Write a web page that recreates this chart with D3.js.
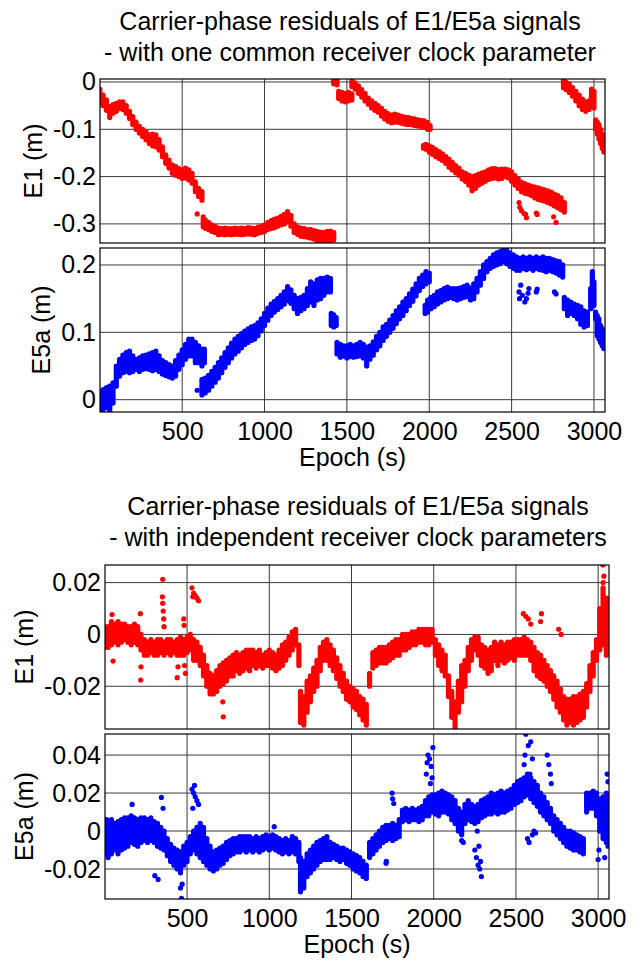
<!DOCTYPE html>
<html><head><meta charset="utf-8">
<script src="https://cdn.jsdelivr.net/npm/d3@7"></script>
<style>
body{margin:0;background:#fff}
text{font-family:"Liberation Sans",Arial,Helvetica,sans-serif;fill:#000}
</style>
</head><body>
<svg id="c" width="638" height="960"></svg>
<script>
// ---------------- data ----------------
const xTickValues = [500, 1000, 1500, 2000, 2500, 3000];
const xTickLabels = ["500", "1000", "1500", "2000", "2500", "3000"];
const titleTop = ["Carrier-phase residuals of E1/E5a signals", "- with one common receiver clock parameter"];
const titleBottom = ["Carrier-phase residuals of E1/E5a signals", "- with independent receiver clock parameters"];
const xLabel = "Epoch (s)";

const e1TopTicks = [0, -0.1, -0.2, -0.3];
const e5aTopTicks = [0, 0.1, 0.2];
const e1BotTicks = [0.02, 0, -0.02];
const e5aBotTicks = [0.04, 0.02, 0, -0.02];

// [epoch, low, high] of the dense scatter band
const e1Top = [
[0,-0.045,-0.015],[20,-0.05,-0.028],[40,-0.06,-0.038],[60,-0.075,-0.052],[80,-0.066,-0.048],[100,-0.062,-0.045],
[120,-0.056,-0.042],[140,-0.058,-0.042],[160,-0.066,-0.05],[180,-0.077,-0.062],[200,-0.09,-0.073],[220,-0.1,-0.085],
[240,-0.108,-0.094],[260,-0.115,-0.1],[280,-0.122,-0.105],[300,-0.13,-0.112],[320,-0.135,-0.11],[340,-0.137,-0.112],
[360,-0.144,-0.122],[380,-0.158,-0.137],[400,-0.172,-0.154],[420,-0.182,-0.165],[440,-0.193,-0.175],[460,-0.197,-0.179],
[480,-0.2,-0.183],[500,-0.204,-0.186],[520,-0.203,-0.182],[540,-0.207,-0.186],[560,-0.214,-0.193],[580,-0.232,-0.211],
[600,-0.242,-0.225],[620,-0.25,-0.232],
[628,-0.306,-0.285],[640,-0.309,-0.292],[660,-0.312,-0.297],[680,-0.316,-0.302],[700,-0.318,-0.305],[720,-0.323,-0.309],
[740,-0.322,-0.31],[760,-0.323,-0.309],[780,-0.322,-0.31],[800,-0.323,-0.31],[820,-0.322,-0.309],[840,-0.322,-0.31],
[860,-0.323,-0.309],[880,-0.322,-0.31],[900,-0.321,-0.308],[920,-0.322,-0.309],[940,-0.323,-0.31],[960,-0.32,-0.307],
[980,-0.318,-0.305],[1000,-0.316,-0.302],[1020,-0.312,-0.297],[1040,-0.31,-0.293],[1060,-0.308,-0.29],[1080,-0.305,-0.288],
[1100,-0.302,-0.284],[1120,-0.3,-0.28],[1140,-0.295,-0.274],[1160,-0.305,-0.282],[1180,-0.318,-0.3],[1200,-0.322,-0.306],
[1220,-0.326,-0.309],[1240,-0.327,-0.31],[1260,-0.328,-0.312],[1280,-0.33,-0.312],[1300,-0.332,-0.314],[1320,-0.338,-0.316],
[1340,-0.34,-0.318],[1360,-0.341,-0.318],[1380,-0.338,-0.316],[1400,-0.336,-0.315],[1420,-0.334,-0.318],
[1420,-0.004,0.006],[1440,-0.006,0.006],
[1450,-0.035,-0.02],[1470,-0.04,-0.022],[1490,-0.042,-0.024],[1510,-0.04,-0.022],[1530,-0.038,-0.025],
[1530,-0.01,0.002],[1550,-0.015,-0.002],[1570,-0.024,-0.008],[1590,-0.032,-0.016],[1610,-0.04,-0.024],[1630,-0.047,-0.034],
[1650,-0.055,-0.04],[1670,-0.06,-0.045],[1690,-0.064,-0.05],[1710,-0.072,-0.056],[1730,-0.078,-0.062],[1750,-0.083,-0.067],
[1770,-0.086,-0.07],[1790,-0.085,-0.068],[1810,-0.085,-0.07],[1830,-0.087,-0.072],[1850,-0.089,-0.074],[1870,-0.09,-0.075],
[1890,-0.09,-0.077],[1910,-0.092,-0.078],[1930,-0.093,-0.08],[1950,-0.094,-0.081],[1970,-0.095,-0.082],[1990,-0.1,-0.086],
[2005,-0.1,-0.092],
[1965,-0.14,-0.134],[1980,-0.142,-0.132],[2000,-0.148,-0.135],[2020,-0.153,-0.138],[2040,-0.158,-0.143],[2060,-0.162,-0.147],
[2080,-0.166,-0.152],[2100,-0.172,-0.158],[2120,-0.18,-0.163],[2140,-0.186,-0.17],[2160,-0.192,-0.177],[2180,-0.197,-0.182],
[2200,-0.205,-0.19],[2220,-0.21,-0.193],[2240,-0.218,-0.197],[2260,-0.23,-0.2],[2280,-0.225,-0.198],[2300,-0.218,-0.195],
[2320,-0.214,-0.192],[2340,-0.21,-0.19],[2360,-0.206,-0.186],[2380,-0.204,-0.183],[2400,-0.203,-0.183],[2420,-0.205,-0.185],
[2440,-0.204,-0.184],[2460,-0.2,-0.184],[2480,-0.203,-0.186],[2500,-0.21,-0.19],[2520,-0.218,-0.198],[2540,-0.225,-0.205],
[2560,-0.232,-0.212],[2580,-0.235,-0.215],[2600,-0.237,-0.218],[2620,-0.24,-0.22],[2640,-0.245,-0.222],[2660,-0.248,-0.224],
[2680,-0.25,-0.226],[2700,-0.252,-0.228],[2720,-0.255,-0.23],[2740,-0.258,-0.233],[2760,-0.262,-0.237],[2780,-0.266,-0.24],
[2800,-0.27,-0.245],[2820,-0.275,-0.255],
[2815,-0.012,0.003],[2830,-0.016,0.0],[2850,-0.022,-0.004],[2870,-0.03,-0.012],[2890,-0.04,-0.02],[2910,-0.05,-0.028],
[2930,-0.058,-0.036],[2950,-0.062,-0.042],[2970,-0.058,-0.04],[2985,-0.05,-0.015],[3000,-0.055,-0.02],[3010,-0.1,-0.08],
[3020,-0.11,-0.085],[3030,-0.12,-0.09],[3040,-0.13,-0.1],[3050,-0.14,-0.11],[3060,-0.148,-0.12]
];
const e1TopOut = [[591,-0.279],[2545,-0.255],[2550,-0.265],[2560,-0.272],[2575,-0.278],[2585,-0.28],[2590,-0.287],
[2650,-0.277],[2655,-0.28],[2755,-0.285],[2770,-0.297]];

const e5aTop = [
[0,-0.02,0.012],[20,-0.015,0.015],[40,-0.012,0.018],[60,-0.018,0.02],[80,-0.005,0.025],[100,0.02,0.05],[120,0.035,0.06],
[140,0.04,0.066],[160,0.042,0.07],[180,0.04,0.072],[200,0.042,0.065],[220,0.045,0.06],[240,0.042,0.062],[260,0.045,0.065],
[280,0.046,0.066],[300,0.045,0.068],[320,0.043,0.07],[340,0.045,0.072],[360,0.042,0.065],[380,0.038,0.058],[400,0.036,0.055],
[420,0.034,0.052],[440,0.032,0.05],[460,0.035,0.058],[480,0.045,0.066],[500,0.052,0.074],[520,0.06,0.082],[540,0.065,0.09],
[560,0.065,0.09],[580,0.055,0.085],[600,0.055,0.08],[620,0.05,0.075],[635,0.055,0.075],
[620,0.007,0.03],[640,0.01,0.032],[660,0.014,0.036],[680,0.02,0.042],[700,0.026,0.048],[720,0.032,0.055],[740,0.04,0.062],
[760,0.048,0.07],[780,0.055,0.077],[800,0.062,0.084],[820,0.068,0.09],[840,0.072,0.094],[860,0.077,0.098],[880,0.082,0.102],
[900,0.085,0.105],[920,0.088,0.108],[940,0.09,0.11],[960,0.095,0.114],[980,0.102,0.12],[1000,0.11,0.128],[1020,0.118,0.136],
[1040,0.125,0.142],[1060,0.13,0.146],[1080,0.134,0.15],[1100,0.138,0.155],[1120,0.142,0.16],[1140,0.147,0.168],
[1160,0.143,0.163],[1180,0.135,0.155],[1200,0.128,0.15],[1220,0.132,0.152],[1240,0.135,0.155],[1260,0.14,0.165],
[1280,0.145,0.175],[1300,0.14,0.172],[1320,0.148,0.178],[1340,0.15,0.18],[1360,0.155,0.18],[1380,0.16,0.182],[1400,0.16,0.18],
[1405,0.11,0.128],[1420,0.108,0.126],[1435,0.11,0.122],
[1440,0.068,0.085],[1460,0.063,0.082],[1480,0.065,0.08],[1500,0.062,0.08],[1520,0.064,0.082],[1540,0.063,0.08],
[1560,0.064,0.082],[1580,0.065,0.085],[1600,0.062,0.082],[1620,0.05,0.078],[1640,0.06,0.08],[1660,0.066,0.086],
[1680,0.074,0.094],[1700,0.08,0.1],[1720,0.088,0.108],[1740,0.094,0.112],[1760,0.1,0.118],[1780,0.106,0.125],
[1800,0.113,0.132],[1820,0.12,0.138],[1840,0.125,0.145],[1860,0.132,0.15],[1880,0.14,0.157],[1900,0.146,0.164],
[1920,0.154,0.172],[1940,0.162,0.18],[1960,0.168,0.185],[1980,0.172,0.19],[2000,0.175,0.188],
[1975,0.128,0.14],[1990,0.13,0.148],[2010,0.135,0.152],[2030,0.138,0.155],[2050,0.142,0.16],[2070,0.145,0.162],
[2090,0.148,0.165],[2110,0.15,0.167],[2130,0.152,0.165],[2150,0.15,0.165],[2170,0.148,0.165],[2190,0.15,0.166],
[2210,0.152,0.168],[2230,0.153,0.17],[2250,0.148,0.166],[2270,0.15,0.172],[2290,0.16,0.18],[2310,0.17,0.19],
[2330,0.18,0.2],[2350,0.19,0.205],[2370,0.195,0.21],[2390,0.198,0.215],[2410,0.2,0.218],[2430,0.202,0.22],
[2450,0.205,0.225],[2470,0.202,0.222],[2490,0.198,0.218],[2510,0.195,0.215],[2530,0.192,0.212],[2550,0.192,0.21],
[2570,0.195,0.212],[2590,0.193,0.21],[2610,0.195,0.212],[2630,0.192,0.21],[2650,0.195,0.212],[2670,0.193,0.21],
[2690,0.192,0.212],[2710,0.19,0.21],[2730,0.192,0.21],[2750,0.19,0.208],[2770,0.188,0.206],[2790,0.185,0.205],[2810,0.182,0.2],
[2820,0.135,0.152],[2840,0.125,0.148],[2860,0.128,0.145],[2880,0.125,0.142],[2900,0.12,0.14],[2920,0.112,0.138],
[2940,0.108,0.132],[2960,0.11,0.13],[2980,0.135,0.165],[2990,0.148,0.19],[3000,0.14,0.175],[3010,0.12,0.13],
[3020,0.095,0.125],[3030,0.09,0.12],[3040,0.085,0.11],[3050,0.08,0.105],[3060,0.076,0.1]
];
const e5aTopOut = [[591,0.014],[2545,0.16],[2548,0.15],[2555,0.17],[2565,0.155],[2580,0.145],[2590,0.15],[2600,0.158],
[2605,0.165],[2650,0.16],[2655,0.164],[2760,0.16],[2770,0.157]];

const e1Bot = [
[0,-0.005,0.003],[20,-0.005,0.003],[40,-0.004,0.005],[60,-0.003,0.004],[80,-0.004,0.005],[100,-0.003,0.004],
[120,-0.002,0.004],[140,-0.003,0.003],[160,-0.004,0.003],[180,-0.003,0.004],[200,-0.004,0.003],[220,-0.006,0.0],
[240,-0.008,-0.002],[260,-0.008,-0.003],[280,-0.007,-0.002],[300,-0.008,-0.003],[320,-0.008,-0.002],[340,-0.007,-0.002],
[360,-0.008,-0.003],[380,-0.007,-0.002],[400,-0.008,-0.002],[420,-0.007,-0.003],[440,-0.008,-0.002],[460,-0.008,-0.001],
[480,-0.008,-0.002],[500,-0.007,-0.001],[520,-0.006,0.0],[540,-0.01,-0.002],[560,-0.01,-0.003],[580,-0.012,-0.005],
[600,-0.016,-0.008],[620,-0.02,-0.012],[640,-0.023,-0.015],[660,-0.023,-0.016],[680,-0.022,-0.014],[700,-0.02,-0.012],
[720,-0.019,-0.011],[740,-0.018,-0.01],[760,-0.016,-0.009],[780,-0.016,-0.008],[800,-0.014,-0.007],[820,-0.015,-0.008],
[840,-0.014,-0.007],[860,-0.013,-0.006],[880,-0.014,-0.006],[900,-0.012,-0.006],[920,-0.013,-0.007],[940,-0.012,-0.006],
[960,-0.013,-0.008],[980,-0.012,-0.007],[1000,-0.012,-0.006],[1020,-0.013,-0.007],[1040,-0.014,-0.008],[1060,-0.013,-0.006],
[1080,-0.012,-0.004],[1100,-0.01,-0.003],[1120,-0.008,-0.001],[1140,-0.006,0.001],[1160,-0.004,0.002],[1180,-0.012,-0.004],
[1190,-0.034,-0.022],[1210,-0.035,-0.024],[1230,-0.03,-0.018],[1250,-0.026,-0.016],[1270,-0.022,-0.013],[1290,-0.02,-0.01],
[1310,-0.014,-0.005],[1330,-0.01,-0.003],[1350,-0.01,-0.002],[1370,-0.012,-0.004],[1390,-0.014,-0.006],[1410,-0.017,-0.009],
[1430,-0.02,-0.012],[1450,-0.022,-0.015],[1470,-0.025,-0.018],[1490,-0.026,-0.02],[1510,-0.028,-0.021],[1530,-0.029,-0.022],
[1550,-0.031,-0.024],[1570,-0.033,-0.025],[1590,-0.035,-0.027],[1610,-0.02,-0.015],[1630,-0.013,-0.007],[1650,-0.012,-0.006],
[1670,-0.011,-0.005],[1690,-0.011,-0.005],[1710,-0.011,-0.005],[1730,-0.01,-0.004],[1750,-0.009,-0.003],[1770,-0.008,-0.002],
[1790,-0.008,-0.002],[1810,-0.006,0.0],[1830,-0.006,0.0],[1850,-0.005,0.0],[1870,-0.004,0.001],[1890,-0.004,0.001],
[1910,-0.003,0.002],[1930,-0.003,0.002],[1950,-0.004,0.002],[1970,-0.004,0.002],[1990,-0.003,0.002],[2010,-0.008,-0.002],
[2030,-0.012,-0.004],[2050,-0.014,-0.006],[2070,-0.016,-0.008],[2090,-0.024,-0.016],[2110,-0.032,-0.022],[2130,-0.036,-0.026],
[2150,-0.03,-0.018],[2170,-0.026,-0.012],[2190,-0.02,-0.01],[2210,-0.014,-0.005],[2230,-0.01,-0.002],[2250,-0.006,-0.001],
[2270,-0.008,-0.001],[2290,-0.012,-0.004],[2310,-0.013,-0.005],[2330,-0.015,-0.006],[2350,-0.014,-0.005],[2370,-0.01,-0.003],
[2390,-0.012,-0.004],[2410,-0.01,-0.003],[2430,-0.011,-0.004],[2450,-0.01,-0.003],[2470,-0.009,-0.003],[2490,-0.01,-0.002],
[2510,-0.008,-0.002],[2530,-0.008,-0.002],[2550,-0.008,-0.001],[2570,-0.008,-0.002],[2590,-0.01,-0.003],[2610,-0.014,-0.005],
[2630,-0.016,-0.007],[2650,-0.017,-0.008],[2670,-0.018,-0.01],[2690,-0.02,-0.012],[2710,-0.022,-0.014],[2730,-0.025,-0.016],
[2750,-0.028,-0.018],[2770,-0.03,-0.021],[2790,-0.033,-0.024],[2810,-0.035,-0.025],[2830,-0.034,-0.025],[2850,-0.035,-0.024],
[2870,-0.034,-0.024],[2890,-0.033,-0.023],[2910,-0.032,-0.022],[2930,-0.028,-0.019],[2950,-0.022,-0.012],[2970,-0.016,-0.007],
[2990,-0.01,-0.002],[3010,-0.006,0.01],[3030,-0.004,0.018],[3050,-0.008,0.014],[3060,-0.005,0.008]
];
const e1BotOut = [[44,0.0077],[50,-0.0103],[216,0.008],[218,-0.0176],[220,-0.0125],[352,0.0213],[350,0.0145],[352,0.012],
[355,0.009],[358,0.006],[360,0.003],[440,-0.0167],[445,-0.0125],[480,0.006],[482,0.0035],[485,-0.012],[490,-0.015],
[530,0.018],[535,0.0145],[540,0.016],[550,0.015],[560,0.014],[570,0.013],[717,-0.026],[720,-0.0318],[2132,-0.037],
[2545,0.008],[2560,0.007],[2575,0.006],[2590,0.004],[2650,0.005],[2655,0.008],[2760,0.002],[2775,0.0],
[3029,0.0268],[3030,0.02],[3035,0.0225],[3058,-0.005]];

const e5aBot = [
[0,-0.012,0.005],[20,-0.014,0.004],[40,-0.012,0.006],[60,-0.01,0.004],[80,-0.012,0.005],[100,-0.01,0.006],[120,-0.009,0.007],
[140,-0.008,0.007],[160,-0.006,0.008],[180,-0.007,0.007],[200,-0.008,0.006],[220,-0.006,0.007],[240,-0.005,0.007],
[260,-0.006,0.006],[280,-0.005,0.007],[300,-0.006,0.005],[320,-0.008,0.004],[340,-0.009,0.002],[360,-0.01,0.0],
[380,-0.013,-0.004],[400,-0.016,-0.007],[420,-0.018,-0.009],[440,-0.02,-0.01],[460,-0.022,-0.011],[480,-0.018,-0.008],
[500,-0.016,-0.006],[520,-0.012,-0.003],[540,-0.01,0.0],[560,-0.012,0.002],[580,-0.014,0.004],[600,-0.016,0.002],
[620,-0.018,-0.004],[640,-0.02,-0.008],[660,-0.021,-0.011],[680,-0.02,-0.01],[700,-0.018,-0.009],[720,-0.017,-0.008],
[740,-0.015,-0.006],[760,-0.013,-0.005],[780,-0.012,-0.004],[800,-0.011,-0.004],[820,-0.011,-0.003],[840,-0.01,-0.003],
[860,-0.011,-0.003],[880,-0.01,-0.003],[900,-0.011,-0.004],[920,-0.01,-0.003],[940,-0.011,-0.004],[960,-0.01,-0.003],
[980,-0.009,-0.002],[1000,-0.01,-0.003],[1020,-0.009,-0.002],[1040,-0.01,-0.003],[1060,-0.011,-0.004],[1080,-0.012,-0.005],
[1100,-0.011,-0.004],[1120,-0.012,-0.005],[1140,-0.011,-0.003],[1160,-0.012,-0.004],[1180,-0.016,-0.006],[1190,-0.032,-0.014],
[1210,-0.03,-0.016],[1230,-0.024,-0.012],[1250,-0.022,-0.01],[1270,-0.02,-0.008],[1290,-0.018,-0.006],[1310,-0.016,-0.005],
[1330,-0.015,-0.004],[1350,-0.015,-0.003],[1370,-0.015,-0.006],[1390,-0.014,-0.007],[1410,-0.015,-0.008],[1430,-0.016,-0.009],
[1450,-0.015,-0.009],[1470,-0.017,-0.01],[1490,-0.018,-0.011],[1510,-0.02,-0.012],[1530,-0.021,-0.013],[1550,-0.022,-0.014],
[1570,-0.024,-0.016],[1590,-0.025,-0.018],[1610,-0.014,-0.006],[1630,-0.012,-0.004],[1650,-0.01,-0.002],[1670,-0.008,0.0],
[1690,-0.006,0.002],[1710,-0.005,0.003],[1730,-0.004,0.003],[1750,-0.005,0.004],[1770,-0.004,0.003],[1790,-0.003,0.006],
[1810,0.005,0.011],[1830,0.006,0.012],[1850,0.005,0.011],[1870,0.006,0.012],[1890,0.006,0.011],[1910,0.005,0.012],
[1930,0.006,0.013],[1950,0.008,0.016],[1970,0.008,0.018],[1990,0.01,0.019],[2010,0.009,0.019],[2030,0.008,0.02],
[2050,0.01,0.021],[2070,0.01,0.02],[2090,0.009,0.019],[2110,0.006,0.018],[2130,0.004,0.016],[2150,0.0,0.012],
[2170,-0.002,0.01],[2190,0.004,0.014],[2210,0.006,0.016],[2230,0.005,0.014],[2250,0.004,0.013],[2270,0.005,0.014],
[2290,0.007,0.016],[2310,0.008,0.017],[2330,0.009,0.018],[2350,0.009,0.02],[2370,0.01,0.019],[2390,0.009,0.02],
[2410,0.01,0.021],[2430,0.01,0.02],[2450,0.011,0.021],[2470,0.012,0.022],[2490,0.014,0.024],[2510,0.015,0.026],
[2530,0.016,0.027],[2550,0.018,0.028],[2570,0.019,0.03],[2590,0.017,0.028],[2610,0.015,0.026],[2630,0.013,0.024],
[2650,0.01,0.02],[2670,0.008,0.018],[2690,0.006,0.015],[2710,0.004,0.012],[2730,0.0,0.008],[2750,-0.002,0.006],
[2770,-0.004,0.004],[2790,-0.006,0.002],[2810,-0.008,0.0],[2830,-0.009,0.0],[2850,-0.01,-0.001],[2870,-0.01,-0.002],
[2890,-0.011,-0.003],[2910,-0.012,-0.004],[2930,0.01,0.02],[2950,0.012,0.02],[2970,0.012,0.021],[2990,0.008,0.02],
[3010,0.0,0.017],[3030,-0.004,0.018],[3050,-0.006,0.02],[3060,-0.008,0.015]
];
const e5aBotOut = [[10,0.006],[166,0.014],[304,-0.0235],[324,-0.0255],[344,0.0177],[354,0.012],[460,-0.03],[466,-0.0354],
[470,-0.028],[530,0.022],[535,0.012],[540,0.02],[545,0.024],[550,0.018],[560,0.016],[570,0.014],[1030,0.0023],
[1710,-0.017],[1712,-0.016],[1747,0.02],[1750,0.017],[1757,0.0145],[1955,0.03],[1960,0.036],[1965,0.04],[1975,0.038],
[1980,0.025],[1985,0.034],[1990,0.028],[1995,0.044],[2170,-0.005],[2180,-0.006],[2250,-0.01],[2260,-0.014],[2265,0.0],
[2270,-0.018],[2275,-0.008],[2280,-0.02],[2285,-0.016],[2290,-0.024],[2550,0.035],[2555,0.04],[2560,0.051],[2570,-0.004],
[2575,0.045],[2580,-0.006],[2585,0.03],[2590,0.047],[2600,0.038],[2600,-0.002],[2610,0.0],[2620,-0.001],[2690,0.04],
[2700,0.035],[2710,0.03],[2715,0.025],[3000,-0.015],[3005,-0.01],[3040,-0.014],[3055,0.03],[3060,0.026]];

// ---------------- drawing ----------------
const svg = d3.select("#c");
const FS = 25;
const RED = "#ff0000", BLUE = "#0000ff";
const fmt = d => d === 0 ? "0" : String(d);

function panel(cfg, idx) {
  const x = d3.scaleLinear().domain(cfg.xd).range([cfg.left, cfg.right]);
  const y = d3.scaleLinear().domain(cfg.yd).range([cfg.bottom, cfg.top]);
  const g = svg.append("g");
  const clipId = "clip" + idx;
  svg.append("clipPath").attr("id", clipId).append("rect")
    .attr("x", cfg.left).attr("y", cfg.top)
    .attr("width", cfg.right - cfg.left).attr("height", cfg.bottom - cfg.top);

  // grid
  g.append("g").selectAll("line").data(xTickValues).join("line")
    .attr("x1", d => x(d)).attr("x2", d => x(d))
    .attr("y1", cfg.top).attr("y2", cfg.bottom)
    .attr("stroke", "#3a3a3a").attr("stroke-width", 1);
  g.append("g").selectAll("line").data(cfg.yTicks).join("line")
    .attr("y1", d => y(d)).attr("y2", d => y(d))
    .attr("x1", cfg.left).attr("x2", cfg.right)
    .attr("stroke", "#3a3a3a").attr("stroke-width", 1);

  // data
  const dg = g.append("g").attr("clip-path", `url(#${clipId})`);
  dg.selectAll("line.band").data(cfg.band).join("line").attr("class", "band")
    .attr("x1", d => x(d[0])).attr("x2", d => x(d[0]))
    .attr("y1", d => y(d[1])).attr("y2", d => y(d[2]))
    .attr("stroke", cfg.color).attr("stroke-width", 5.2).attr("stroke-linecap", "round");
  dg.selectAll("circle").data(cfg.out).join("circle")
    .attr("cx", d => x(d[0])).attr("cy", d => y(d[1])).attr("r", 2.6)
    .attr("fill", cfg.color);

  // box
  g.append("rect").attr("x", cfg.left).attr("y", cfg.top)
    .attr("width", cfg.right - cfg.left).attr("height", cfg.bottom - cfg.top)
    .attr("fill", "none").attr("stroke", "#000").attr("stroke-width", 1.2);

  // y tick labels
  const ya = d3.axisLeft(y).tickValues(cfg.yTicks).tickFormat(fmt).tickSize(0).tickPadding(4);
  const yg = g.append("g").attr("transform", `translate(${cfg.left},0)`).call(ya);
  yg.select(".domain").remove();
  yg.selectAll("text").attr("font-size", FS).attr("fill", "#000");
  yg.attr("font-family", null);

  // x tick labels
  if (cfg.showX) {
    const xa = d3.axisBottom(x).tickValues(xTickValues).tickFormat((d, i) => xTickLabels[i]).tickSize(0).tickPadding(10);
    const xg = g.append("g").attr("transform", `translate(0,${cfg.bottom})`).call(xa);
    xg.select(".domain").remove();
    xg.selectAll("text").attr("font-size", FS).attr("fill", "#000");
    xg.attr("font-family", null);
    g.append("text").attr("x", (cfg.left + cfg.right) / 2).attr("y", cfg.bottom + 54)
      .attr("text-anchor", "middle").attr("font-size", FS).text(xLabel);
  }

  // y label
  g.append("text")
    .attr("transform", `translate(${cfg.ylx},${(cfg.top + cfg.bottom) / 2}) rotate(-90)`)
    .attr("text-anchor", "middle").attr("font-size", FS).text(cfg.ylabel);
}

const topX = [1, 3067], botX = [1, 3066];
panel({left: 100, right: 605, top: 79, bottom: 243, xd: topX, yd: [-0.3404, 0.0063], yTicks: e1TopTicks,
  band: e1Top, out: e1TopOut, color: RED, ylabel: "E1 (m)", ylx: 42, showX: false}, 1);
panel({left: 100, right: 605, top: 248, bottom: 412, xd: topX, yd: [-0.0183, 0.2252], yTicks: e5aTopTicks,
  band: e5aTop, out: e5aTopOut, color: BLUE, ylabel: "E5a (m)", ylx: 50, showX: true}, 2);
panel({left: 105, right: 609, top: 565, bottom: 729, xd: botX, yd: [-0.0365, 0.0268], yTicks: e1BotTicks,
  band: e1Bot, out: e1BotOut, color: RED, ylabel: "E1 (m)", ylx: 33, showX: false}, 3);
panel({left: 105, right: 609, top: 734, bottom: 899, xd: botX, yd: [-0.0358, 0.0511], yTicks: e5aBotTicks,
  band: e5aBot, out: e5aBotOut, color: BLUE, ylabel: "E5a (m)", ylx: 33, showX: true}, 4);

// titles
function title(lines, cx, y1, y2) {
  svg.append("text").attr("x", cx).attr("y", y1).attr("text-anchor", "middle").attr("font-size", 25).text(lines[0]);
  svg.append("text").attr("x", cx).attr("y", y2).attr("text-anchor", "middle").attr("font-size", 25).text(lines[1]);
}
title(titleTop, 350, 30, 61);
title(titleBottom, 358, 515, 546);
</script>
</body></html>
